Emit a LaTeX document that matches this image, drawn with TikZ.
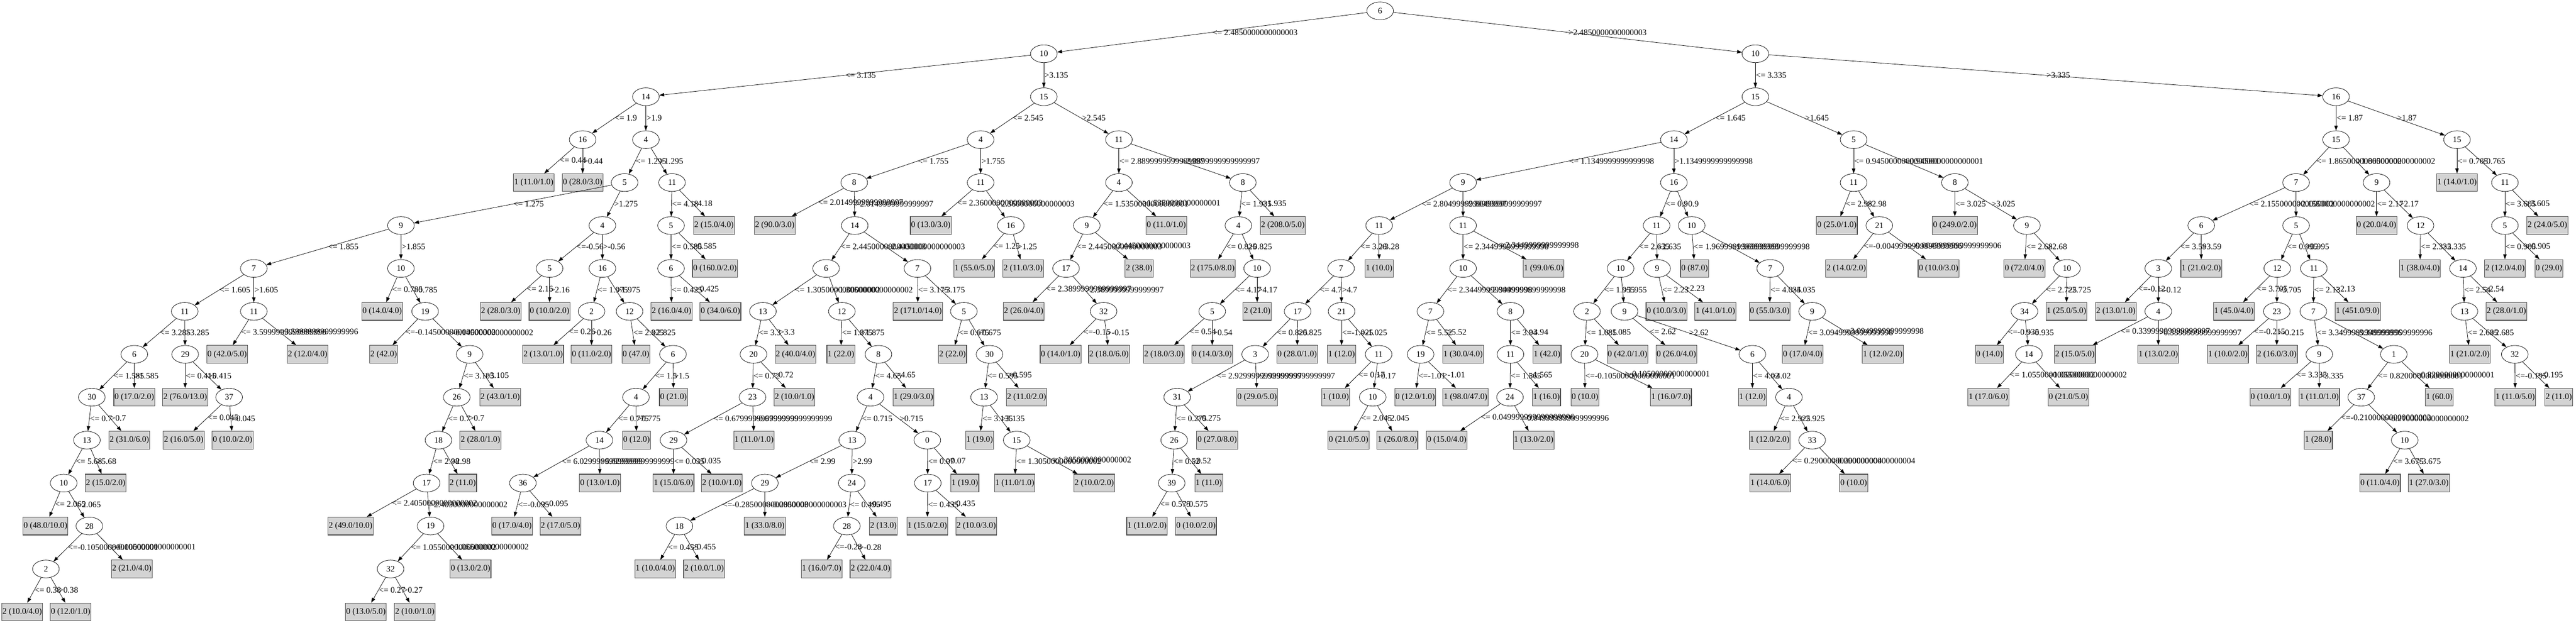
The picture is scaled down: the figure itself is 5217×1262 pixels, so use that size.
\documentclass[tikz,border=0pt]{standalone}
\usepackage{fontspec}
\setmainfont{Liberation Serif}
\usetikzlibrary{shapes.geometric,arrows.meta,calc}
\newcommand{\gvfont}{\fontsize{17bp}{20bp}\selectfont}
\newlength{\condwd}
\definecolor{leafgray}{HTML}{D3D3D3}
\tikzstyle{attr}=[ellipse,draw=black,line width=0.8bp,font=\gvfont,
                  inner sep=0pt,minimum width=54bp,minimum height=36bp]
\tikzstyle{leafbox}=[rectangle,draw=black!70,fill=leafgray,line width=1.2bp,font=\gvfont,
                  inner xsep=1.5bp,inner ysep=0pt,minimum width=54bp,minimum height=36bp]
\tikzstyle{branch}=[-{Triangle[length=10bp,width=7bp]},line width=0.8bp]
\tikzstyle{cond}=[midway,anchor=west,inner sep=1bp,font=\gvfont]
\tikzstyle{condat}=[anchor=west,inner sep=1bp,font=\gvfont]

\begin{document}
\begin{tikzpicture}[x=1bp,y=-1bp]
    \newcommand{\splitpair}[5]{\settowidth{\condwd}{\gvfont #4}%
        \draw[branch] (#1) -- coordinate[midway] (ml) (#2);
        \draw[branch] (#1) -- node[cond] (mr) {#5} (#3);
        \path let \p1=(ml), \p2=(mr.west) in
            node[condat] at ({min(\x1,\x2-\condwd-4pt)},\y1) {#4};}
    \newcommand{\splitnode}[4]{\splitpair{#1}{#2}{#3}{<= #4}{>#4}}
    \newcommand{\splitnodeneg}[4]{\splitpair{#1}{#2}{#3}{<=#4}{>#4}}
    \useasboundingbox (0,0) rectangle (5217,1262);

    \node (a1) at (2795,22) [attr]{6};

    \node (b1) at (2114,109) [attr]{10};
    \node (b2) at (3555,109) [attr]{10};

    \node (c1) at (1308,196) [attr]{14};
    \node (c2) at (2114,196) [attr]{15};
    \node (c3) at (3555,196) [attr]{15};
    \node (c4) at (4731,196) [attr]{16};

    \node (d1) at (1180,283) [attr]{16};
    \node (d2) at (1308,283) [attr]{4};
    \node (d3) at (1986,283) [attr]{4};
    \node (d4) at (2266,283) [attr]{11};
    \node (d5) at (3390,283) [attr]{14};
    \node (d6) at (3754,283) [attr]{5};
    \node (d7) at (4731,283) [attr]{15};
    \node (d8) at (4976,283) [attr]{15};

    \node (e1) at (1081,370) [leafbox]{1 (11.0/1.0)};
    \node (e2) at (1180,370) [leafbox]{0 (28.0/3.0)};
    \node (e3) at (1265,370) [attr]{5};
    \node (e4) at (1361,370) [attr]{11};
    \node (e5) at (1730,370) [attr]{8};
    \node (e6) at (1986,370) [attr]{11};
    \node (e7) at (2266,370) [attr]{4};
    \node (e8) at (2517,370) [attr]{8};
    \node (e9) at (2963,370) [attr]{9};
    \node (e10) at (3390,370) [attr]{16};
    \node (e11) at (3754,370) [attr]{11};
    \node (e12) at (3959,370) [attr]{8};
    \node (e13) at (4650,370) [attr]{7};
    \node (e14) at (4813,370) [attr]{9};
    \node (e15) at (4976,370) [leafbox]{1 (14.0/1.0)};
    \node (e16) at (5073,370) [attr]{11};

    \node (f1) at (812,457) [attr]{9};
    \node (f2) at (1220,457) [attr]{4};
    \node (f3) at (1359,457) [attr]{5};
    \node (f4) at (1446,457) [leafbox]{2 (15.0/4.0)};
    \node (f5) at (1569,457) [leafbox]{2 (90.0/3.0)};
    \node (f6) at (1731,457) [attr]{14};
    \node (f7) at (1885,457) [leafbox]{0 (13.0/3.0)};
    \node (f8) at (2047,457) [attr]{16};
    \node (f9) at (2201,457) [attr]{9};
    \node (f10) at (2362,457) [leafbox]{0 (11.0/1.0)};
    \node (f11) at (2508,457) [attr]{4};
    \node (f12) at (2598,457) [leafbox]{2 (208.0/5.0)};
    \node (f13) at (2793,457) [attr]{11};
    \node (f14) at (2963,457) [attr]{11};
    \node (f15) at (3355,457) [attr]{11};
    \node (f16) at (3426,457) [attr]{10};
    \node (f17) at (3720,457) [leafbox]{0 (25.0/1.0)};
    \node (f18) at (3806,457) [attr]{21};
    \node (f19) at (3959,457) [leafbox]{0 (249.0/2.0)};
    \node (f20) at (4105,457) [attr]{9};
    \node (f21) at (4458,457) [attr]{6};
    \node (f22) at (4650,457) [attr]{5};
    \node (f23) at (4813,457) [leafbox]{0 (20.0/4.0)};
    \node (f24) at (4902,457) [attr]{12};
    \node (f25) at (5073,457) [attr]{5};
    \node (f26) at (5159,457) [leafbox]{2 (24.0/5.0)};

    \node (g1) at (514,544) [attr]{7};
    \node (g2) at (812,544) [attr]{10};
    \node (g3) at (1113,544) [attr]{5};
    \node (g4) at (1220,544) [attr]{16};
    \node (g5) at (1359,544) [attr]{6};
    \node (g6) at (1448,544) [leafbox]{0 (160.0/2.0)};
    \node (g7) at (1673,544) [attr]{6};
    \node (g8) at (1858,544) [attr]{7};
    \node (g9) at (1973,544) [leafbox]{1 (55.0/5.0)};
    \node (g10) at (2072,544) [leafbox]{2 (11.0/3.0)};
    \node (g11) at (2159,544) [attr]{17};
    \node (g12) at (2307,544) [leafbox]{2 (38.0)};
    \node (g13) at (2456,544) [leafbox]{2 (175.0/8.0)};
    \node (g14) at (2546,544) [attr]{10};
    \node (g15) at (2716,544) [attr]{7};
    \node (g16) at (2793,544) [leafbox]{1 (10.0)};
    \node (g17) at (2963,544) [attr]{10};
    \node (g18) at (3126,544) [leafbox]{1 (99.0/6.0)};
    \node (g19) at (3282,544) [attr]{10};
    \node (g20) at (3356,544) [attr]{9};
    \node (g21) at (3432,544) [leafbox]{0 (87.0)};
    \node (g22) at (3585,544) [attr]{7};
    \node (g23) at (3739,544) [leafbox]{2 (14.0/2.0)};
    \node (g24) at (3926,544) [leafbox]{0 (10.0/3.0)};
    \node (g25) at (4100,544) [leafbox]{0 (72.0/4.0)};
    \node (g26) at (4186,544) [attr]{10};
    \node (g27) at (4371,544) [attr]{3};
    \node (g28) at (4458,544) [leafbox]{1 (21.0/2.0)};
    \node (g29) at (4612,544) [attr]{12};
    \node (g30) at (4686,544) [attr]{11};
    \node (g31) at (4901,544) [leafbox]{1 (38.0/4.0)};
    \node (g32) at (4988,544) [attr]{14};
    \node (g33) at (5073,544) [leafbox]{2 (12.0/4.0)};
    \node (g34) at (5162,544) [leafbox]{0 (29.0)};

    \node (h1) at (374,631) [attr]{11};
    \node (h2) at (514,631) [attr]{11};
    \node (h3) at (774,631) [leafbox]{0 (14.0/4.0)};
    \node (h4) at (861,631) [attr]{19};
    \node (h5) at (1014,631) [leafbox]{2 (28.0/3.0)};
    \node (h6) at (1113,631) [leafbox]{0 (10.0/2.0)};
    \node (h7) at (1198,631) [attr]{2};
    \node (h8) at (1275,631) [attr]{12};
    \node (h9) at (1360,631) [leafbox]{2 (16.0/4.0)};
    \node (h10) at (1459,631) [leafbox]{0 (34.0/6.0)};
    \node (h11) at (1545,631) [attr]{13};
    \node (h12) at (1705,631) [attr]{12};
    \node (h13) at (1859,631) [leafbox]{2 (171.0/14.0)};
    \node (h14) at (1952,631) [attr]{5};
    \node (h15) at (2073,631) [leafbox]{2 (26.0/4.0)};
    \node (h16) at (2235,631) [attr]{32};
    \node (h17) at (2455,631) [attr]{5};
    \node (h18) at (2546,631) [leafbox]{2 (21.0)};
    \node (h19) at (2628,631) [attr]{17};
    \node (h20) at (2717,631) [attr]{21};
    \node (h21) at (2897,631) [attr]{7};
    \node (h22) at (3059,631) [attr]{8};
    \node (h23) at (3214,631) [attr]{2};
    \node (h24) at (3290,631) [attr]{9};
    \node (h25) at (3375,631) [leafbox]{0 (10.0/3.0)};
    \node (h26) at (3474,631) [leafbox]{1 (41.0/1.0)};
    \node (h27) at (3584,631) [leafbox]{0 (55.0/3.0)};
    \node (h28) at (3670,631) [attr]{9};
    \node (h29) at (4100,631) [attr]{34};
    \node (h30) at (4185,631) [leafbox]{1 (25.0/5.0)};
    \node (h31) at (4285,631) [leafbox]{2 (13.0/1.0)};
    \node (h32) at (4371,631) [attr]{4};
    \node (h33) at (4524,631) [leafbox]{1 (45.0/4.0)};
    \node (h34) at (4611,631) [attr]{23};
    \node (h35) at (4685,631) [attr]{7};
    \node (h36) at (4775,631) [leafbox]{1 (451.0/9.0)};
    \node (h37) at (4991,631) [attr]{13};
    \node (h38) at (5076,631) [leafbox]{2 (28.0/1.0)};

    \node (i1) at (272,718) [attr]{6};
    \node (i2) at (375,718) [attr]{29};
    \node (i3) at (460,718) [leafbox]{0 (42.0/5.0)};
    \node (i4) at (623,718) [leafbox]{2 (12.0/4.0)};
    \node (i5) at (777,718) [leafbox]{2 (42.0)};
    \node (i6) at (951,718) [attr]{9};
    \node (i7) at (1100,718) [leafbox]{2 (13.0/1.0)};
    \node (i8) at (1198,718) [leafbox]{0 (11.0/2.0)};
    \node (i9) at (1288,718) [leafbox]{0 (47.0)};
    \node (i10) at (1363,718) [attr]{6};
    \node (i11) at (1526,718) [attr]{20};
    \node (i12) at (1611,718) [leafbox]{2 (40.0/4.0)};
    \node (i13) at (1703,718) [leafbox]{1 (22.0)};
    \node (i14) at (1779,718) [attr]{8};
    \node (i15) at (1929,718) [leafbox]{2 (22.0)};
    \node (i16) at (2004,718) [attr]{30};
    \node (i17) at (2148,718) [leafbox]{0 (14.0/1.0)};
    \node (i18) at (2246,718) [leafbox]{2 (18.0/6.0)};
    \node (i19) at (2357,718) [leafbox]{2 (18.0/3.0)};
    \node (i20) at (2455,718) [leafbox]{0 (14.0/3.0)};
    \node (i21) at (2542,718) [attr]{3};
    \node (i22) at (2627,718) [leafbox]{0 (28.0/1.0)};
    \node (i23) at (2717,718) [leafbox]{1 (12.0)};
    \node (i24) at (2792,718) [attr]{11};
    \node (i25) at (2877,718) [attr]{19};
    \node (i26) at (2963,718) [leafbox]{1 (30.0/4.0)};
    \node (i27) at (3059,718) [attr]{11};
    \node (i28) at (3133,718) [leafbox]{1 (42.0)};
    \node (i29) at (3209,718) [attr]{20};
    \node (i30) at (3296,718) [leafbox]{0 (42.0/1.0)};
    \node (i31) at (3395,718) [leafbox]{0 (26.0/4.0)};
    \node (i32) at (3549,718) [attr]{6};
    \node (i33) at (3651,718) [leafbox]{0 (17.0/4.0)};
    \node (i34) at (3813,718) [leafbox]{1 (12.0/2.0)};
    \node (i35) at (4029,718) [leafbox]{0 (14.0)};
    \node (i36) at (4109,718) [attr]{14};
    \node (i37) at (4202,718) [leafbox]{2 (15.0/5.0)};
    \node (i38) at (4371,718) [leafbox]{1 (13.0/2.0)};
    \node (i39) at (4512,718) [leafbox]{1 (10.0/2.0)};
    \node (i40) at (4611,718) [leafbox]{2 (16.0/3.0)};
    \node (i41) at (4697,718) [attr]{9};
    \node (i42) at (4848,718) [attr]{1};
    \node (i43) at (5002,718) [leafbox]{1 (21.0/2.0)};
    \node (i44) at (5093,718) [attr]{32};

    \node (j1) at (186,805) [attr]{30};
    \node (j2) at (272,805) [leafbox]{0 (17.0/2.0)};
    \node (j3) at (375,805) [leafbox]{2 (76.0/13.0)};
    \node (j4) at (464,805) [attr]{37};
    \node (j5) at (925,805) [attr]{26};
    \node (j6) at (1013,805) [leafbox]{2 (43.0/1.0)};
    \node (j7) at (1288,805) [attr]{4};
    \node (j8) at (1364,805) [leafbox]{0 (21.0)};
    \node (j9) at (1524,805) [attr]{23};
    \node (j10) at (1609,805) [leafbox]{2 (10.0/1.0)};
    \node (j11) at (1763,805) [attr]{4};
    \node (j12) at (1850,805) [leafbox]{1 (29.0/3.0)};
    \node (j13) at (1993,805) [attr]{13};
    \node (j14) at (2079,805) [leafbox]{2 (11.0/2.0)};
    \node (j15) at (2384,805) [attr]{31};
    \node (j16) at (2546,805) [leafbox]{0 (29.0/5.0)};
    \node (j17) at (2705,805) [leafbox]{1 (10.0)};
    \node (j18) at (2780,805) [attr]{10};
    \node (j19) at (2866,805) [leafbox]{0 (12.0/1.0)};
    \node (j20) at (2968,805) [leafbox]{1 (98.0/47.0)};
    \node (j21) at (3058,805) [attr]{24};
    \node (j22) at (3132,805) [leafbox]{1 (16.0)};
    \node (j23) at (3210,805) [leafbox]{0 (10.0)};
    \node (j24) at (3384,805) [leafbox]{1 (16.0/7.0)};
    \node (j25) at (3549,805) [leafbox]{1 (12.0)};
    \node (j26) at (3623,805) [attr]{4};
    \node (j27) at (4027,805) [leafbox]{1 (17.0/6.0)};
    \node (j28) at (4189,805) [leafbox]{0 (21.0/5.0)};
    \node (j29) at (4598,805) [leafbox]{0 (10.0/1.0)};
    \node (j30) at (4697,805) [leafbox]{1 (11.0/1.0)};
    \node (j31) at (4782,805) [attr]{37};
    \node (j32) at (4940,805) [leafbox]{1 (60.0)};
    \node (j33) at (5094,805) [leafbox]{1 (11.0/5.0)};
    \node (j34) at (5182,805) [leafbox]{2 (11.0)};

    \node (k1) at (176,892) [attr]{13};
    \node (k2) at (262,892) [leafbox]{2 (31.0/6.0)};
    \node (k3) at (372,892) [leafbox]{2 (16.0/5.0)};
    \node (k4) at (471,892) [leafbox]{0 (10.0/2.0)};
    \node (k5) at (888,892) [attr]{18};
    \node (k6) at (973,892) [leafbox]{2 (28.0/1.0)};
    \node (k7) at (1214,892) [attr]{14};
    \node (k8) at (1289,892) [leafbox]{0 (12.0)};
    \node (k9) at (1364,892) [attr]{29};
    \node (k10) at (1527,892) [leafbox]{1 (11.0/1.0)};
    \node (k11) at (1726,892) [attr]{13};
    \node (k12) at (1878,892) [attr]{0};
    \node (k13) at (1984,892) [leafbox]{1 (19.0)};
    \node (k14) at (2059,892) [attr]{15};
    \node (k15) at (2378,892) [attr]{26};
    \node (k16) at (2465,892) [leafbox]{0 (27.0/8.0)};
    \node (k17) at (2731,892) [leafbox]{0 (21.0/5.0)};
    \node (k18) at (2830,892) [leafbox]{1 (26.0/8.0)};
    \node (k19) at (2930,892) [leafbox]{0 (15.0/4.0)};
    \node (k20) at (3106,892) [leafbox]{1 (13.0/2.0)};
    \node (k21) at (3584,892) [leafbox]{1 (12.0/2.0)};
    \node (k22) at (3670,892) [attr]{33};
    \node (k23) at (4695,892) [leafbox]{1 (28.0)};
    \node (k24) at (4870,892) [attr]{10};

    \node (l1) at (129,979) [attr]{10};
    \node (l2) at (214,979) [leafbox]{2 (15.0/2.0)};
    \node (l3) at (864,979) [attr]{17};
    \node (l4) at (937,979) [leafbox]{2 (11.0)};
    \node (l5) at (1059,979) [attr]{36};
    \node (l6) at (1215,979) [leafbox]{0 (13.0/1.0)};
    \node (l7) at (1364,979) [leafbox]{1 (15.0/6.0)};
    \node (l8) at (1462,979) [leafbox]{2 (10.0/1.0)};
    \node (l9) at (1549,979) [attr]{29};
    \node (l10) at (1725,979) [attr]{24};
    \node (l11) at (1879,979) [attr]{17};
    \node (l12) at (1954,979) [leafbox]{1 (19.0)};
    \node (l13) at (2055,979) [leafbox]{1 (11.0/1.0)};
    \node (l14) at (2216,979) [leafbox]{2 (10.0/2.0)};
    \node (l15) at (2373,979) [attr]{39};
    \node (l16) at (2448,979) [leafbox]{1 (11.0)};
    \node (l17) at (3585,979) [leafbox]{1 (14.0/6.0)};
    \node (l18) at (3754,979) [leafbox]{0 (10.0)};
    \node (l19) at (4820,979) [leafbox]{0 (11.0/4.0)};
    \node (l20) at (4919,979) [leafbox]{1 (27.0/3.0)};

    \node (m1) at (92,1066) [leafbox]{0 (48.0/10.0)};
    \node (m2) at (181,1066) [attr]{28};
    \node (m3) at (710,1066) [leafbox]{2 (49.0/10.0)};
    \node (m4) at (872,1066) [attr]{19};
    \node (m5) at (1037,1066) [leafbox]{0 (17.0/4.0)};
    \node (m6) at (1135,1066) [leafbox]{2 (17.0/5.0)};
    \node (m7) at (1376,1066) [attr]{18};
    \node (m8) at (1549,1066) [leafbox]{1 (33.0/8.0)};
    \node (m9) at (1715,1066) [attr]{28};
    \node (m10) at (1789,1066) [leafbox]{2 (13.0)};
    \node (m11) at (1878,1066) [leafbox]{1 (15.0/2.0)};
    \node (m12) at (1977,1066) [leafbox]{2 (10.0/3.0)};
    \node (m13) at (2323,1066) [leafbox]{1 (11.0/2.0)};
    \node (m14) at (2422,1066) [leafbox]{0 (10.0/2.0)};

    \node (n1) at (93,1153) [attr]{2};
    \node (n2) at (267,1153) [leafbox]{2 (21.0/4.0)};
    \node (n3) at (791,1153) [attr]{32};
    \node (n4) at (953,1153) [leafbox]{0 (13.0/2.0)};
    \node (n5) at (1327,1153) [leafbox]{1 (10.0/4.0)};
    \node (n6) at (1426,1153) [leafbox]{2 (10.0/1.0)};
    \node (n7) at (1664,1153) [leafbox]{1 (16.0/7.0)};
    \node (n8) at (1763,1153) [leafbox]{2 (22.0/4.0)};

    \node (o1) at (45,1240) [leafbox]{2 (10.0/4.0)};
    \node (o2) at (143,1240) [leafbox]{0 (12.0/1.0)};
    \node (o3) at (741,1240) [leafbox]{0 (13.0/5.0)};
    \node (o4) at (840,1240) [leafbox]{2 (10.0/1.0)};

    \splitnode{a1}{b1}{b2}{2.4850000000000003}
    \splitnode{b1}{c1}{c2}{3.135}
    \splitnode{b2}{c3}{c4}{3.335}
    \splitnode{c1}{d1}{d2}{1.9}
    \splitnode{c2}{d3}{d4}{2.545}
    \splitnode{c3}{d5}{d6}{1.645}
    \splitnode{c4}{d7}{d8}{1.87}
    \splitnode{d1}{e1}{e2}{0.44}
    \splitnode{d2}{e3}{e4}{1.295}
    \splitnode{d3}{e5}{e6}{1.755}
    \splitnode{d4}{e7}{e8}{2.8899999999999997}
    \splitnode{d5}{e9}{e10}{1.1349999999999998}
    \splitnode{d6}{e11}{e12}{0.9450000000000001}
    \splitnode{d7}{e13}{e14}{1.8650000000000002}
    \splitnode{d8}{e15}{e16}{0.765}
    \splitnode{e3}{f1}{f2}{1.275}
    \splitnode{e4}{f3}{f4}{4.18}
    \splitnode{e5}{f5}{f6}{2.0149999999999997}
    \splitnode{e6}{f7}{f8}{2.3600000000000003}
    \splitnode{e7}{f9}{f10}{1.5350000000000001}
    \splitnode{e8}{f11}{f12}{1.935}
    \splitnode{e9}{f13}{f14}{2.8049999999999997}
    \splitnode{e10}{f15}{f16}{0.9}
    \splitnode{e11}{f17}{f18}{2.98}
    \splitnode{e12}{f19}{f20}{3.025}
    \splitnode{e13}{f21}{f22}{2.1550000000000002}
    \splitnode{e14}{f23}{f24}{2.17}
    \splitnode{e16}{f25}{f26}{3.605}
    \splitnode{f1}{g1}{g2}{1.855}
    \splitnodeneg{f2}{g3}{g4}{-0.56}
    \splitnode{f3}{g5}{g6}{0.585}
    \splitnode{f6}{g7}{g8}{2.4450000000000003}
    \splitnode{f8}{g9}{g10}{1.25}
    \splitnode{f9}{g11}{g12}{2.4450000000000003}
    \splitnode{f11}{g13}{g14}{0.825}
    \splitnode{f13}{g15}{g16}{3.28}
    \splitnode{f14}{g17}{g18}{2.3449999999999998}
    \splitnode{f15}{g19}{g20}{2.635}
    \splitnode{f16}{g21}{g22}{1.9699999999999998}
    \splitnodeneg{f18}{g23}{g24}{-0.0049999999999999906}
    \splitnode{f20}{g25}{g26}{2.68}
    \splitnode{f21}{g27}{g28}{3.59}
    \splitnode{f22}{g29}{g30}{0.995}
    \splitnode{f24}{g31}{g32}{2.335}
    \splitnode{f25}{g33}{g34}{0.905}
    \splitnode{g1}{h1}{h2}{1.605}
    \splitnode{g2}{h3}{h4}{0.785}
    \splitnode{g3}{h5}{h6}{2.16}
    \splitnode{g4}{h7}{h8}{1.975}
    \splitnode{g5}{h9}{h10}{0.425}
    \splitnode{g7}{h11}{h12}{1.3050000000000002}
    \splitnode{g8}{h13}{h14}{3.175}
    \splitnode{g11}{h15}{h16}{2.3899999999999997}
    \splitnode{g14}{h17}{h18}{4.17}
    \splitnode{g15}{h19}{h20}{4.7}
    \splitnode{g17}{h21}{h22}{2.3449999999999998}
    \splitnode{g19}{h23}{h24}{1.955}
    \splitnode{g20}{h25}{h26}{2.23}
    \splitnode{g22}{h27}{h28}{4.035}
    \splitnode{g26}{h29}{h30}{2.725}
    \splitnodeneg{g27}{h31}{h32}{-0.12}
    \splitnode{g29}{h33}{h34}{3.705}
    \splitnode{g30}{h35}{h36}{2.13}
    \splitnode{g32}{h37}{h38}{2.54}
    \splitnode{h1}{i1}{i2}{3.285}
    \splitnode{h2}{i3}{i4}{3.5999999999999996}
    \splitnodeneg{h4}{i5}{i6}{-0.14500000000000002}
    \splitnode{h7}{i7}{i8}{0.26}
    \splitnode{h8}{i9}{i10}{2.825}
    \splitnode{h11}{i11}{i12}{3.3}
    \splitnode{h12}{i13}{i14}{1.875}
    \splitnode{h14}{i15}{i16}{0.675}
    \splitnodeneg{h16}{i17}{i18}{-0.15}
    \splitnode{h17}{i19}{i20}{0.54}
    \splitnode{h19}{i21}{i22}{0.825}
    \splitnodeneg{h20}{i23}{i24}{-1.025}
    \splitnode{h21}{i25}{i26}{5.52}
    \splitnode{h22}{i27}{i28}{3.94}
    \splitnode{h23}{i29}{i30}{1.085}
    \splitnode{h24}{i31}{i32}{2.62}
    \splitnode{h28}{i33}{i34}{3.0949999999999998}
    \splitnodeneg{h29}{i35}{i36}{-0.935}
    \splitnode{h32}{i37}{i38}{0.33999999999999997}
    \splitnodeneg{h34}{i39}{i40}{-0.215}
    \splitnode{h35}{i41}{i42}{3.3499999999999996}
    \splitnode{h37}{i43}{i44}{2.685}
    \splitnode{i1}{j1}{j2}{1.585}
    \splitnode{i2}{j3}{j4}{0.415}
    \splitnode{i6}{j5}{j6}{3.105}
    \splitnode{i10}{j7}{j8}{1.5}
    \splitnode{i11}{j9}{j10}{0.72}
    \splitnode{i14}{j11}{j12}{4.65}
    \splitnode{i16}{j13}{j14}{0.595}
    \splitnode{i21}{j15}{j16}{2.9299999999999997}
    \splitnode{i24}{j17}{j18}{0.17}
    \splitnodeneg{i25}{j19}{j20}{-1.01}
    \splitnode{i27}{j21}{j22}{1.565}
    \splitnodeneg{i29}{j23}{j24}{-0.10500000000000001}
    \splitnode{i32}{j25}{j26}{4.02}
    \splitnode{i36}{j27}{j28}{1.0550000000000002}
    \splitnode{i41}{j29}{j30}{3.335}
    \splitnode{i42}{j31}{j32}{0.8200000000000001}
    \splitnodeneg{i44}{j33}{j34}{-0.195}
    \splitnode{j1}{k1}{k2}{0.7}
    \splitnode{j4}{k3}{k4}{0.045}
    \splitnode{j5}{k5}{k6}{0.7}
    \splitnode{j7}{k7}{k8}{0.775}
    \splitnode{j9}{k9}{k10}{0.6799999999999999}
    \splitnode{j11}{k11}{k12}{0.715}
    \splitnode{j13}{k13}{k14}{3.135}
    \splitnode{j15}{k15}{k16}{0.275}
    \splitnode{j18}{k17}{k18}{2.045}
    \splitnode{j21}{k19}{k20}{0.049999999999999996}
    \splitnode{j26}{k21}{k22}{2.925}
    \splitnodeneg{j31}{k23}{k24}{-0.21000000000000002}
    \splitnode{k1}{l1}{l2}{5.68}
    \splitnode{k5}{l3}{l4}{2.98}
    \splitnode{k7}{l5}{l6}{6.029999999999999}
    \splitnode{k9}{l7}{l8}{0.035}
    \splitnode{k11}{l9}{l10}{2.99}
    \splitnode{k12}{l11}{l12}{0.07}
    \splitnode{k14}{l13}{l14}{1.3050000000000002}
    \splitnode{k15}{l15}{l16}{0.52}
    \splitnode{k22}{l17}{l18}{0.29000000000000004}
    \splitnode{k24}{l19}{l20}{3.675}
    \splitnode{l1}{m1}{m2}{2.065}
    \splitnode{l3}{m3}{m4}{2.4050000000000002}
    \splitnodeneg{l5}{m5}{m6}{-0.095}
    \splitnodeneg{l9}{m7}{m8}{-0.2850000000000003}
    \splitnode{l10}{m9}{m10}{0.495}
    \splitnode{l11}{m11}{m12}{0.435}
    \splitnode{l15}{m13}{m14}{0.575}
    \splitnodeneg{m2}{n1}{n2}{-0.10500000000000001}
    \splitnode{m4}{n3}{n4}{1.0550000000000002}
    \splitnode{m7}{n5}{n6}{0.455}
    \splitnodeneg{m9}{n7}{n8}{-0.28}
    \splitnode{n1}{o1}{o2}{0.38}
    \splitnode{n3}{o3}{o4}{0.27}
\end{tikzpicture}
\end{document}
